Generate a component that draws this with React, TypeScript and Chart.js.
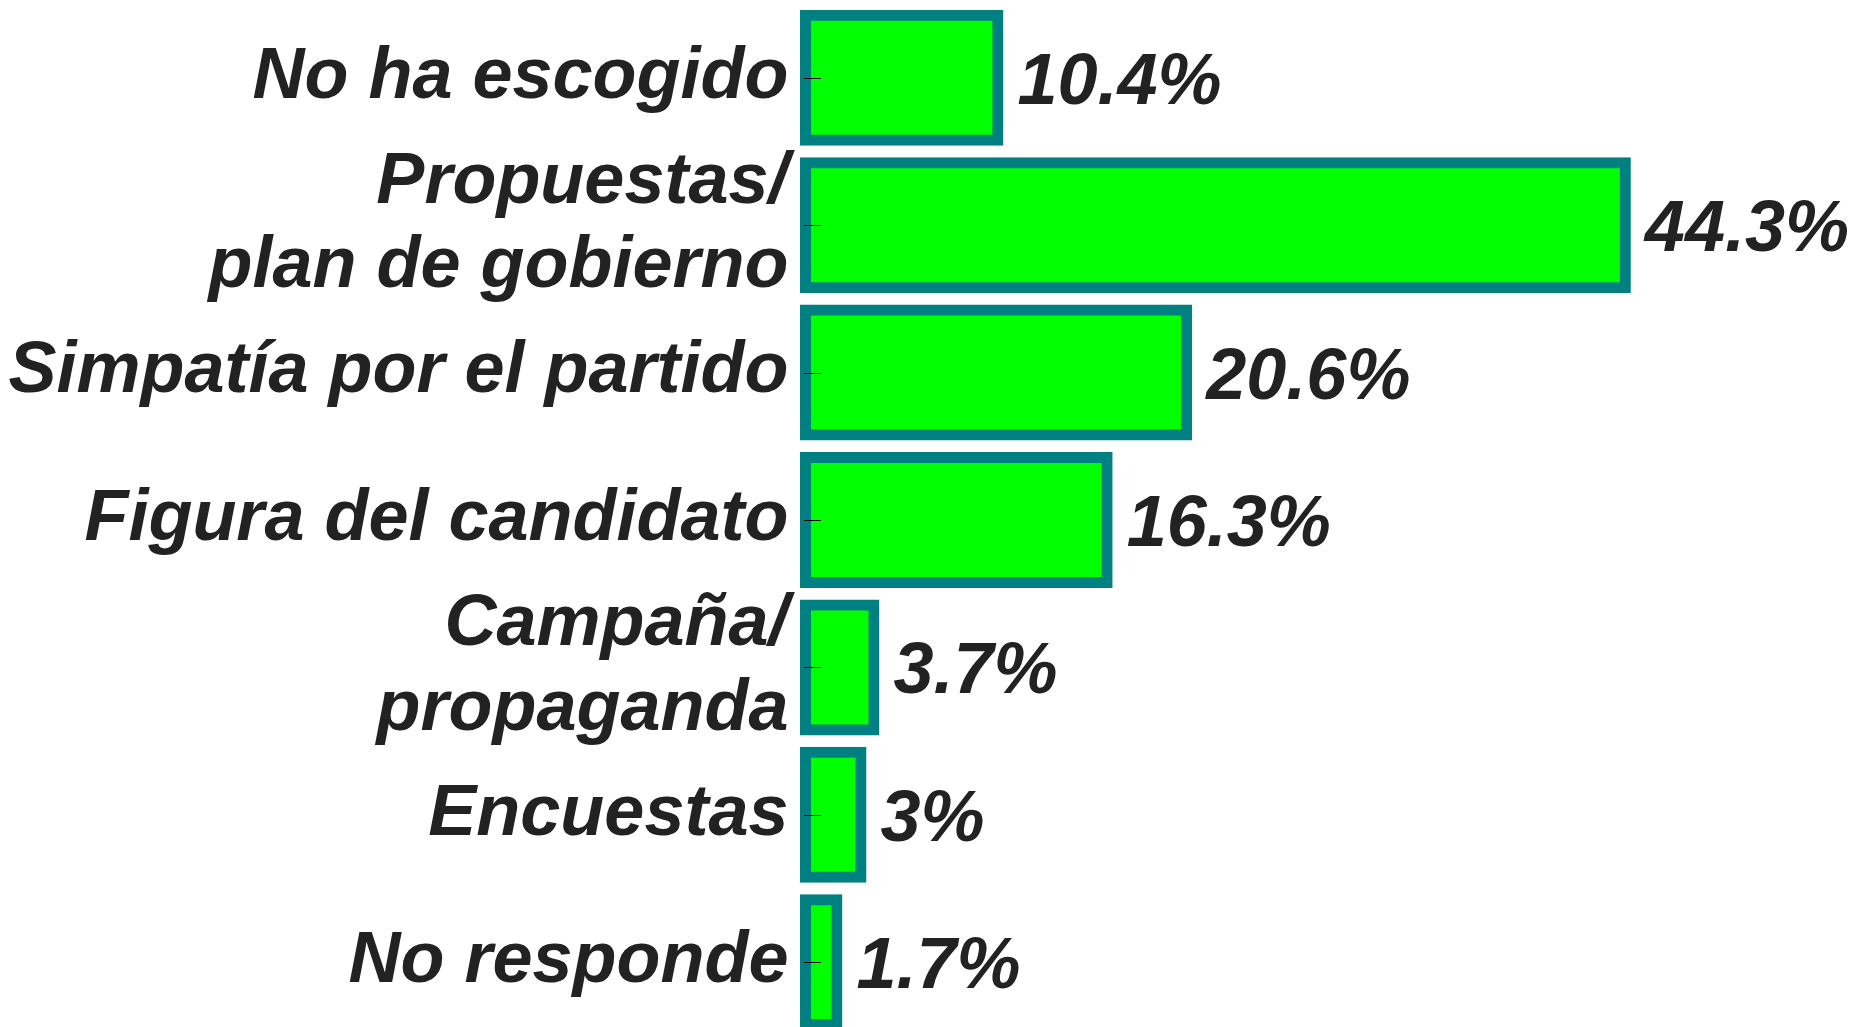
import React, { useEffect, useRef } from "react";
import { Chart, registerables } from "chart.js";

Chart.register(...registerables);

const categories: (string | string[])[] = [
  "No ha escogido",
  ["Propuestas/", "plan de gobierno"],
  "Simpatía por el partido",
  "Figura del candidato",
  ["Campaña/", "propaganda"],
  "Encuestas",
  "No responde",
];
const values: number[] = [10.4, 44.3, 20.6, 16.3, 3.7, 3, 1.7];
const valueLabels: string[] = ["10.4%", "44.3%", "20.6%", "16.3%", "3.7%", "3%", "1.7%"];

const FONT_FAMILY = "'Liberation Sans', Arial, sans-serif";
const TEXT_COLOR = "#222222";
const INFLATE = 5.5;

const innerTicks = {
  id: "innerTicks",
  afterDatasetsDraw(chart: any) {
    const { ctx, chartArea } = chart;
    const y = chart.scales.y;
    ctx.save();
    ctx.strokeStyle = "#000000";
    ctx.lineWidth = 1;
    for (let i = 0; i < y.ticks.length; i++) {
      const py = Math.round(y.getPixelForTick(i)) + 0.5;
      ctx.beginPath();
      ctx.moveTo(chartArea.left - 1.5, py);
      ctx.lineTo(chartArea.left + 15.5, py);
      ctx.stroke();
    }
    ctx.restore();
  },
};

const valueLabelPlugin = {
  id: "valueLabels",
  afterDatasetsDraw(chart: any) {
    const { ctx } = chart;
    const meta = chart.getDatasetMeta(0);
    ctx.save();
    ctx.font = `italic bold 72px ${FONT_FAMILY}`;
    ctx.fillStyle = TEXT_COLOR;
    ctx.textAlign = "left";
    ctx.textBaseline = "alphabetic";
    meta.data.forEach((bar: any, i: number) => {
      ctx.fillText(valueLabels[i], bar.x + INFLATE + 14, bar.y + 26);
    });
    ctx.restore();
  },
};

export default function App() {
  const ref = useRef<HTMLCanvasElement>(null);
  useEffect(() => {
    document.body.style.margin = "0";
    const chart = new Chart(ref.current!, {
      type: "bar",
      data: {
        labels: categories,
        datasets: [
          {
            data: values,
            backgroundColor: "#00ff00",
            borderColor: "#008080",
            borderWidth: 11,
            borderSkipped: false,
            inflateAmount: INFLATE,
            barPercentage: 0.848,
            categoryPercentage: 1,
            clip: false,
          } as any,
        ],
      },
      options: {
        indexAxis: "y",
        animation: false,
        responsive: false,
        layout: { padding: { top: 4, bottom: 0, left: 0, right: 0 } },
        plugins: {
          legend: { display: false },
          tooltip: { enabled: false },
        },
        scales: {
          x: {
            display: false,
            min: 0,
            max: 56.6,
          },
          y: {
            offset: true,
            border: { display: false },
            grid: { display: false, drawTicks: false },
            ticks: {
              autoSkip: false,
              padding: 17,
              color: TEXT_COLOR,
              font: {
                family: FONT_FAMILY,
                size: 72,
                weight: "bold",
                style: "italic",
                lineHeight: 1.18,
              },
            },
            afterFit(scale: any) {
              scale.width = 805.5;
              scale.paddingTop = 0;
              scale.paddingBottom = 0;
            },
          },
        },
      },
      plugins: [innerTicks, valueLabelPlugin],
    });
    return () => chart.destroy();
  }, []);
  return (
    <div
      style={{
        position: "fixed",
        left: 0,
        top: 0,
        width: 1853,
        height: 1027,
        overflow: "hidden",
        background: "#ffffff",
      }}
    >
      <canvas ref={ref} width={1853} height={1036} style={{ display: "block" }} />
    </div>
  );
}
